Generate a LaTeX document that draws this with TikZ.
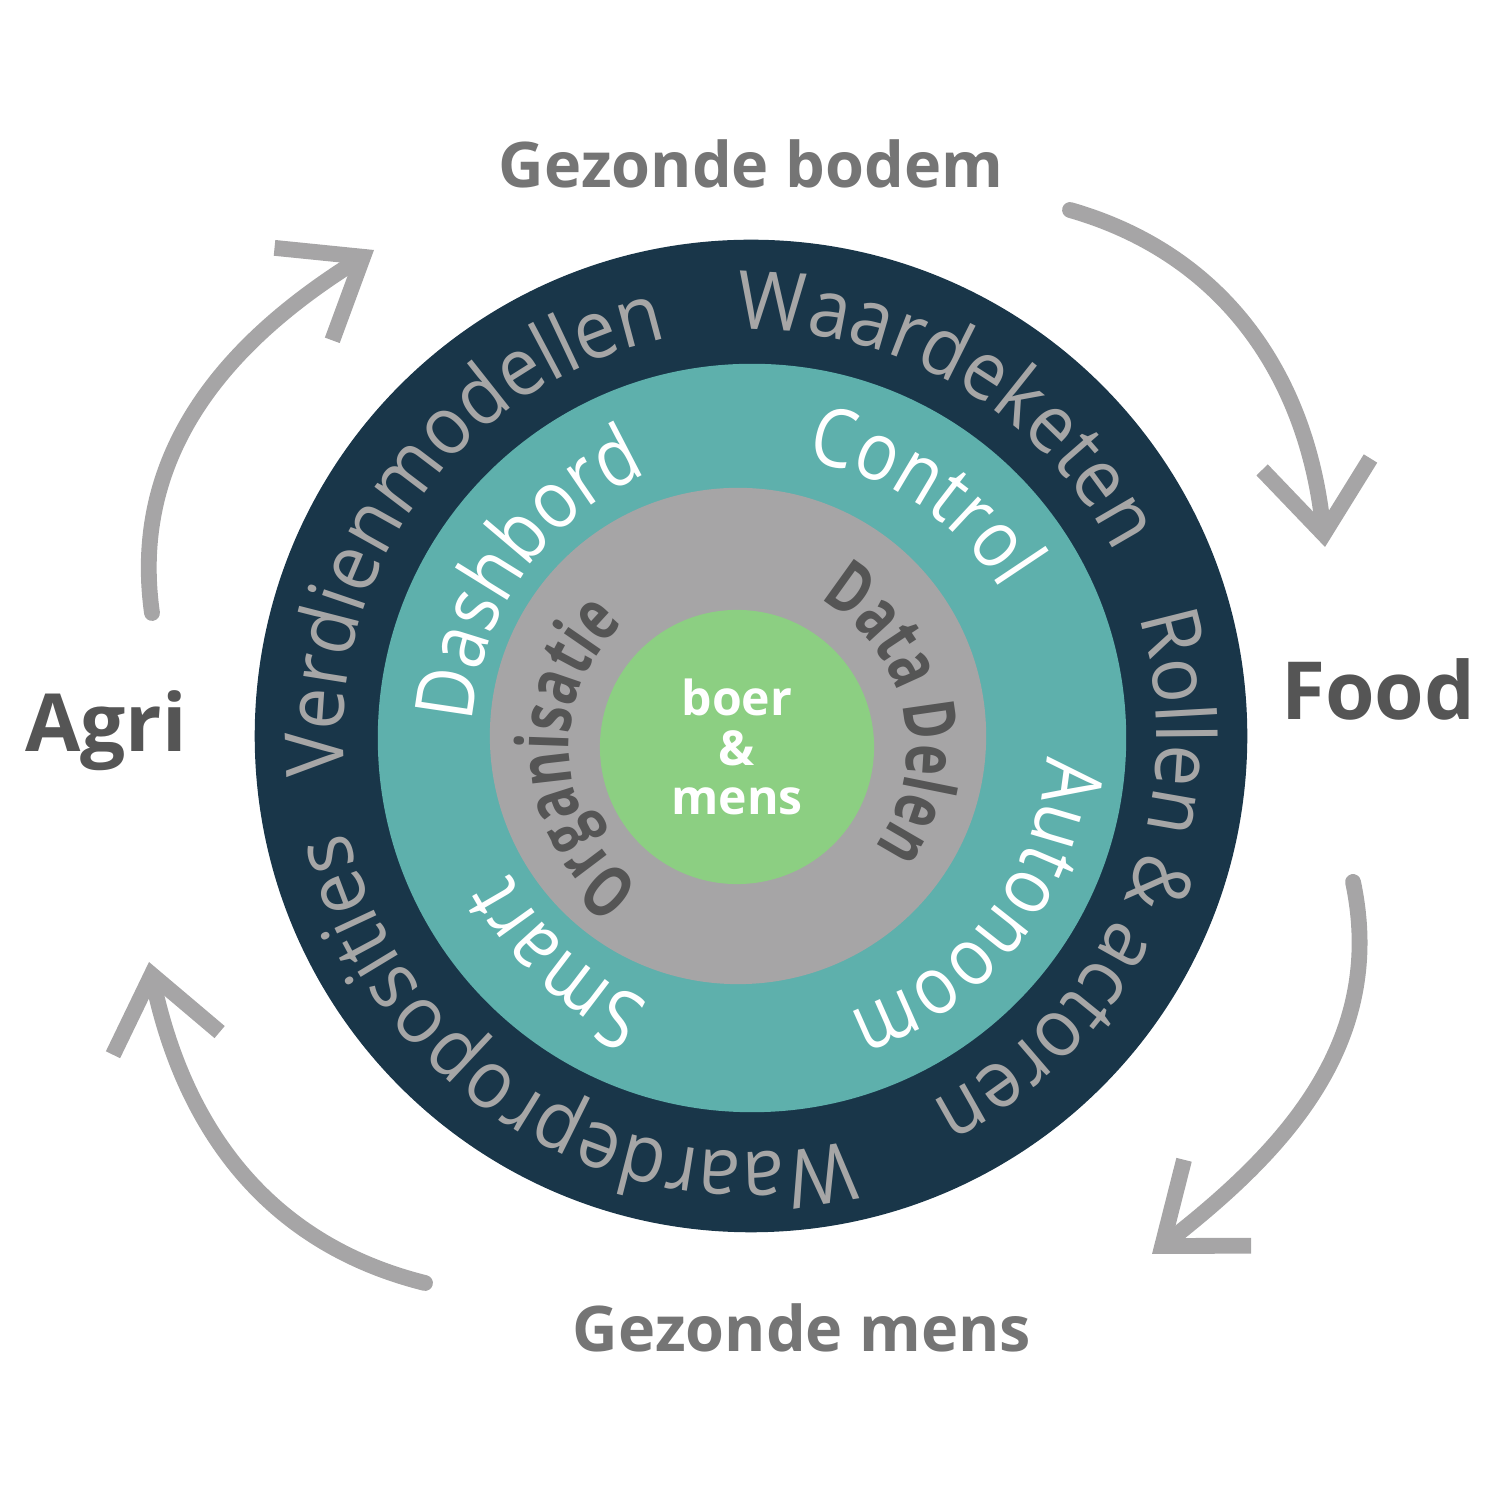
\documentclass[tikz,border=0pt]{standalone}
\usepackage{fontspec}
\setmainfont{Open Sans}
\usetikzlibrary{positioning,arrows.meta,decorations.text}
\definecolor{ringnavy}{HTML}{193649}
\definecolor{ringteal}{HTML}{5EB0AC}
\definecolor{ringgray}{HTML}{A6A5A6}
\definecolor{coregreen}{HTML}{8CCF82}
\definecolor{wordgray}{HTML}{A6A6A6}
\definecolor{labelgray}{HTML}{757575}
\definecolor{darkword}{HTML}{555555}
\definecolor{arrowgray}{HTML}{A6A5A6}
\newfontfamily\outerfont[FakeStretch=0.92]{Open Sans}
\newfontfamily\wordfont[FakeStretch=0.86]{Open Sans}
\newfontfamily\grayfont[FakeStretch=0.72]{Open Sans}
\newfontfamily\labelfont{Open Sans}
\newcommand{\outerword}{\outerfont\fontsize{23pt}{23pt}\selectfont\color{wordgray}}
\newcommand{\tealword}{\wordfont\fontsize{23pt}{23pt}\selectfont\color{white}}
\newcommand{\grayword}{\grayfont\bfseries\fontsize{20.5pt}{20.5pt}\selectfont\color{darkword}}
\tikzset{
    >={Straight Barb[length=20pt,width=31pt]},
    disc/.style = {
        shape=circle,
        inner sep=0pt,
        draw=none
    },
    roundtrip/.style = {
        draw=arrowgray,
        line width=4.5pt,
        line cap=round,
        ->
    },
    side/.style = {
        font=\labelfont\bfseries\fontsize{22.8pt}{22.8pt}\selectfont,
        text=darkword,
        inner sep=0pt
    },
    goal/.style = {
        font=\labelfont\bfseries\fontsize{17.9pt}{17.9pt}\selectfont,
        text=labelgray,
        inner sep=0pt
    },
    ringword/.style = {
        decorate,
        decoration={text along path, text align=center, text={#1}}
    },
}

\begin{document}
\begin{tikzpicture}[x=0.01cm, y=0.01cm]
    \useasboundingbox (0,0) rectangle (1500,1500);

    \node[disc, fill=ringnavy, minimum size=9.92cm] (outer) at (751,764) {};
    \node[disc, fill=ringteal, minimum size=7.48cm] (middle) at (752,762) {};
    \node[disc, fill=ringgray, minimum size=4.96cm] (inner) at (738,764) {};
    \node[disc, fill=coregreen, minimum size=2.74cm, align=center, text=white,
        font=\labelfont\bfseries\fontsize{13.7pt}{14.2pt}\selectfont] (core) at (737,753)
        {boer\\\&\\mens};

    \coordinate (oc) at (751,762);
    \coordinate (tc) at (762,760);
    \coordinate (gc) at (737,752);

    % outer ring
    \path[ringword={|\outerword|Verdienmodellen}] (oc) ++(203.5:408) arc[start angle=203.5, end angle=83.5, radius=408];
    \path[ringword={|\outerword|Waardeketen}] (oc) ++(119.5:408) arc[start angle=119.5, end angle=-0.5, radius=408];
    \path[ringword={|\outerword|Rollen {\&} actoren}] (oc) ++(36.8:406) arc[start angle=36.8, end angle=-83.2, radius=406];
    \path[ringword={|\outerword|Waardeproposities}] (oc) ++(-61.5:414) arc[start angle=-61.5, end angle=-181.5, radius=414];

    % teal ring
    \path[ringword={|\tealword|Dashbord}] (tc) ++(204.9:290) arc[start angle=204.9, end angle=84.9, radius=290];
    \path[ringword={|\tealword|Control}] (tc) ++(116.5:282) arc[start angle=116.5, end angle=-3.5, radius=282];
    \path[ringword={|\tealword|Autonoom}] (tc) ++(22.1:285) arc[start angle=22.1, end angle=-97.9, radius=285];
    \path[ringword={|\tealword|Smart}] (tc) ++(-72.7:285) arc[start angle=-72.7, end angle=-192.7, radius=285];

    % gray ring
    \path[ringword={|\grayword|Organisatie}] (gc) ++(243.7:168) arc[start angle=243.7, end angle=123.7, radius=168];
    \path[ringword={|\grayword|Data Delen}] (gc) ++(72.5:170) arc[start angle=72.5, end angle=-47.5, radius=170];

    \node[side, anchor=base] (agri) at (106,748) {Agri};
    \node[side, anchor=base] (food) at (1378,780) {Food};
    \node[goal, anchor=base] (bodem) at (751,1312) {Gezonde bodem};
    \node[goal, anchor=base] (mens) at (802,148) {Gezonde mens};

    \coordinate (agriout) at (152,887);
    \coordinate (bodemin) at (374,1250);
    \coordinate (bodemout) at (1070,1290);
    \coordinate (foodin) at (1325,953);
    \coordinate (foodout) at (1353,618);
    \coordinate (mensin) at (1152,246);
    \coordinate (mensout) at (425,217);
    \coordinate (agriin) at (149,538);

    \draw[roundtrip] (agriout) to[out=98, in=212] (bodemin);
    \draw[roundtrip] (bodemout) to[out=-16, in=96] (foodin);
    \draw[roundtrip] (foodout) to[out=-78, in=38] (mensin);
    \draw[roundtrip] (mensout) to[out=166, in=282] (agriin);
\end{tikzpicture}
\end{document}
